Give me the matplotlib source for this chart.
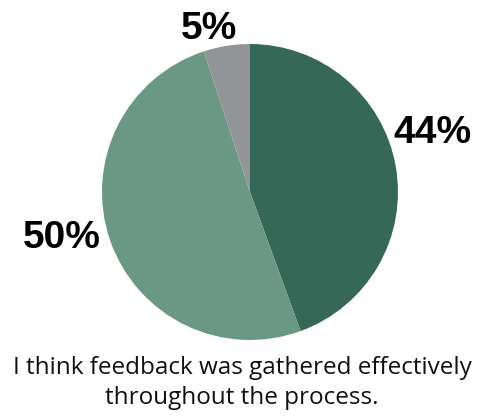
import matplotlib
matplotlib.use("Agg")
import matplotlib.pyplot as plt
import numpy as np

# data
labels = ["Agree", "Strongly agree", "Neutral"]
values = [44, 50, 5]
colors = ["#356856", "#6a9885", "#929497"]
title = "I think feedback was gathered effectively\nthroughout the process."

# label positions (data coords, pie radius = 1)
label_pos = [(1.23, 0.40), (-1.27, -0.31), (-0.28, 1.10)]

fig = plt.figure(figsize=(4.84, 4.17), dpi=100, facecolor="w")
ax = fig.add_axes([0.2107, 0.1847, 0.6116, 0.7098])
ax.pie(values, colors=colors, startangle=90, counterclock=False,
       radius=1, wedgeprops=dict(linewidth=0))
ax.set_xlim(-1, 1)
ax.set_ylim(-1, 1)
ax.set_aspect("equal")

for v, (x, y) in zip(values, label_pos):
    ax.text(x, y, f"{v}%", ha="center", va="center", fontsize=28,
            fontweight="bold", family="Liberation Sans", clip_on=False)

fig.text(0.5, 0.082, title, ha="center", va="center", fontsize=17.5,
         family="Open Sans", linespacing=1.33, color="#111111")

fig.savefig("out.png", dpi=100, facecolor="w")
